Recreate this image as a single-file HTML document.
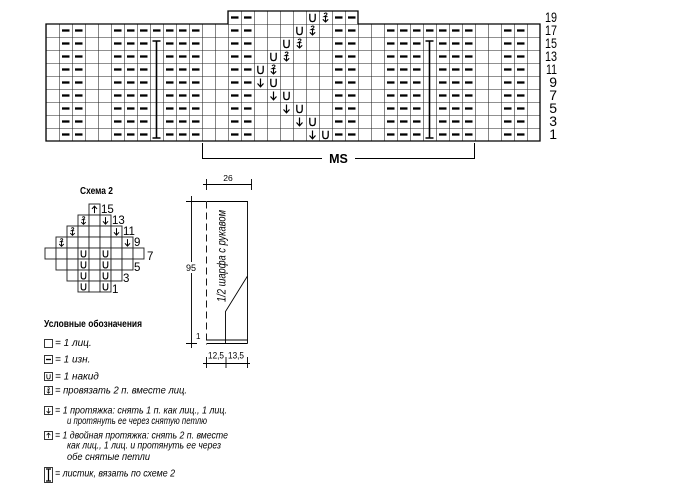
<!DOCTYPE html>
<html><head><meta charset="utf-8"><style>
html,body{margin:0;padding:0;background:#fff;width:683px;height:490px;overflow:hidden}
svg{display:block}
text{font-family:"Liberation Sans",sans-serif;fill:#000}
.it{font-style:italic;font-size:10px}
</style></head><body>
<svg width="683" height="490" viewBox="0 0 683 490" xmlns="http://www.w3.org/2000/svg">
<defs>
<pattern id="grid" x="46" y="11" width="13" height="13" patternUnits="userSpaceOnUse">
<path d="M0 0H13M0 0V13" stroke="#222" stroke-width="1.1" fill="none"/>
</pattern>
<pattern id="purl" x="46" y="11" width="13" height="13" patternUnits="userSpaceOnUse">
<path d="M3 6.5H10.5" stroke="#000" stroke-width="2.3"/>
</pattern>
<g id="V"><path d="M3.8 2.8V7.5Q3.8 10.6 6.5 10.6Q9.2 10.6 9.2 7.5V2.8" stroke="#000" stroke-width="1.3" fill="none"/></g>
<g id="D"><path d="M6.5 2.5V10.8M3.5 7.5L6.5 10.8L9.5 7.5" stroke="#000" stroke-width="1.2" fill="none"/></g>
<g id="U"><path d="M6.5 10.8V2.5M3.5 5.8L6.5 2.5L9.5 5.8" stroke="#000" stroke-width="1.2" fill="none"/></g>
<g id="K"><path d="M6.5 5.5V11M3.8 8.3L6.5 11L9.2 8.3" stroke="#000" stroke-width="1.1" fill="none"/><path d="M5 3Q6.5 1.2 8 2.6Q8.3 3.8 5.2 5.6H8.5" stroke="#000" stroke-width="1" fill="none"/></g>
</defs>

<!-- main chart -->
<rect x="46" y="24" width="494" height="117" fill="url(#grid)"/>
<rect x="228" y="11" width="130" height="13" fill="url(#grid)"/>
<path d="M46 24H228V11H358V24H540V141H46Z" fill="none" stroke="#000" stroke-width="1.3"/>
<g fill="url(#purl)">
<rect x="59" y="24" width="26" height="117"/>
<rect x="111" y="24" width="39" height="117"/>
<rect x="150" y="24" width="13" height="13"/>
<rect x="163" y="24" width="39" height="117"/>
<rect x="228" y="11" width="26" height="130"/>
<rect x="332" y="11" width="26" height="130"/>
<rect x="384" y="24" width="39" height="117"/>
<rect x="423" y="24" width="13" height="13"/>
<rect x="436" y="24" width="39" height="117"/>
<rect x="501" y="24" width="26" height="117"/>
</g>
<use href="#V" x="306" y="11"/><use href="#K" x="319" y="11"/>
<use href="#V" x="293" y="24"/><use href="#K" x="306" y="24"/>
<use href="#V" x="280" y="37"/><use href="#K" x="293" y="37"/>
<use href="#V" x="267" y="50"/><use href="#K" x="280" y="50"/>
<use href="#V" x="254" y="63"/><use href="#K" x="267" y="63"/>
<use href="#D" x="254" y="76"/><use href="#V" x="267" y="76"/>
<use href="#D" x="267" y="89"/><use href="#V" x="280" y="89"/>
<use href="#D" x="280" y="102"/><use href="#V" x="293" y="102"/>
<use href="#D" x="293" y="115"/><use href="#V" x="306" y="115"/>
<use href="#D" x="306" y="128"/><use href="#V" x="319" y="128"/>
<g stroke="#000" stroke-width="1.6" fill="none">
<path d="M156.5 41V138M152.5 41H160.5M152.5 138H160.5"/>
<path d="M429.5 41V138M425.5 41H433.5M425.5 138H433.5"/>
</g>
<g stroke="#000" stroke-width="1" fill="none">
<path d="M202.5 143V158.5H322M355 158.5H474.5V143"/>
</g>
<text x="338.5" y="163" font-size="12.5" font-weight="bold" text-anchor="middle">MS</text>
<g font-size="14" text-anchor="end">
<text x="557" y="22" textLength="12" lengthAdjust="spacingAndGlyphs">19</text>
<text x="557" y="35" textLength="12" lengthAdjust="spacingAndGlyphs">17</text>
<text x="557" y="48" textLength="12" lengthAdjust="spacingAndGlyphs">15</text>
<text x="557" y="61" textLength="12" lengthAdjust="spacingAndGlyphs">13</text>
<text x="557" y="74" textLength="11" lengthAdjust="spacingAndGlyphs">11</text>
<text x="557" y="87">9</text>
<text x="557" y="100">7</text>
<text x="557" y="113">5</text>
<text x="557" y="126">3</text>
<text x="557" y="139">1</text>
</g>

<!-- Schema 2 -->
<text x="80" y="194" font-size="10.5" font-weight="bold" textLength="33" lengthAdjust="spacingAndGlyphs">Схема 2</text>
<g transform="translate(45,204) scale(0.846)">
<g fill="#fff" stroke="#222" stroke-width="1.1">
<rect x="52" y="0" width="13" height="13"/>
<rect x="39" y="13" width="13" height="13"/><rect x="52" y="13" width="13" height="13"/><rect x="65" y="13" width="13" height="13"/>
<rect x="26" y="26" width="13" height="13"/><rect x="39" y="26" width="13" height="13"/><rect x="52" y="26" width="13" height="13"/><rect x="65" y="26" width="13" height="13"/><rect x="78" y="26" width="13" height="13"/>
<rect x="13" y="39" width="13" height="13"/><rect x="26" y="39" width="13" height="13"/><rect x="39" y="39" width="13" height="13"/><rect x="52" y="39" width="13" height="13"/><rect x="65" y="39" width="13" height="13"/><rect x="78" y="39" width="13" height="13"/><rect x="91" y="39" width="13" height="13"/>
<rect x="0" y="52" width="13" height="13"/><rect x="13" y="52" width="13" height="13"/><rect x="26" y="52" width="13" height="13"/><rect x="39" y="52" width="13" height="13"/><rect x="52" y="52" width="13" height="13"/><rect x="65" y="52" width="13" height="13"/><rect x="78" y="52" width="13" height="13"/><rect x="91" y="52" width="13" height="13"/><rect x="104" y="52" width="13" height="13"/>
<rect x="13" y="65" width="13" height="13"/><rect x="26" y="65" width="13" height="13"/><rect x="39" y="65" width="13" height="13"/><rect x="52" y="65" width="13" height="13"/><rect x="65" y="65" width="13" height="13"/><rect x="78" y="65" width="13" height="13"/><rect x="91" y="65" width="13" height="13"/>
<rect x="26" y="78" width="13" height="13"/><rect x="39" y="78" width="13" height="13"/><rect x="52" y="78" width="13" height="13"/><rect x="65" y="78" width="13" height="13"/><rect x="78" y="78" width="13" height="13"/>
<rect x="39" y="91" width="13" height="13"/><rect x="52" y="91" width="13" height="13"/><rect x="65" y="91" width="13" height="13"/>
</g>
<use href="#U" x="52" y="0"/>
<use href="#K" x="39" y="13"/><use href="#D" x="65" y="13"/>
<use href="#K" x="26" y="26"/><use href="#D" x="78" y="26"/>
<use href="#K" x="13" y="39"/><use href="#D" x="91" y="39"/>
<use href="#V" x="39" y="52"/><use href="#V" x="65" y="52"/>
<use href="#V" x="39" y="65"/><use href="#V" x="65" y="65"/>
<use href="#V" x="39" y="78"/><use href="#V" x="65" y="78"/>
<use href="#V" x="39" y="91"/><use href="#V" x="65" y="91"/>
</g>
<g font-size="11.5">
<text x="101" y="213">15</text>
<text x="112" y="224">13</text>
<text x="123" y="235">11</text>
<text x="134" y="246">9</text>
<text x="147" y="260">7</text>
<text x="134" y="271">5</text>
<text x="123" y="282">3</text>
<text x="112" y="293">1</text>
</g>

<!-- schematic -->
<g stroke="#000" fill="none" stroke-width="0.9">
<path d="M203 184.5H252M206.5 179V190M251.5 179V190"/>
<path d="M186 201.5H206M191.5 196V348M186 343.5H197"/>
<path d="M206.5 201.5V345" stroke-dasharray="7,4"/>
<path d="M206.5 201.5H247.5V343.5M247.5 276L225.5 311.5V343.5M206.5 340H247.5M206.5 343.5H247.5"/>
<path d="M203 363.5H250M206.5 357V368M226 357V368M247.5 357V368"/>
</g>
<rect x="184" y="262" width="14" height="11" fill="#fff"/>
<text x="191" y="271" font-size="9" text-anchor="middle">95</text>
<text x="196" y="339" font-size="8">1</text>
<text x="228" y="181" font-size="8.5" text-anchor="middle">26</text>
<text x="208" y="358.5" font-size="9" textLength="16" lengthAdjust="spacingAndGlyphs">12,5</text>
<text x="228" y="358.5" font-size="9" textLength="16" lengthAdjust="spacingAndGlyphs">13,5</text>
<text transform="translate(225.5,256) rotate(-90)" class="it" text-anchor="middle" style="font-size:12px" textLength="92" lengthAdjust="spacingAndGlyphs">1/2 шарфа с рукавом</text>

<!-- legend -->
<text x="44" y="327" font-size="10.5" font-weight="bold" textLength="98" lengthAdjust="spacingAndGlyphs">Условные обозначения</text>
<g stroke="#222" stroke-width="0.9" fill="#fff">
<rect x="44.5" y="339.5" width="8" height="8"/>
<rect x="44.5" y="355.5" width="8" height="8"/>
<rect x="44.5" y="372.5" width="8" height="8"/>
<rect x="44.5" y="386.5" width="8" height="8"/>
<rect x="44.5" y="406.5" width="8" height="8"/>
<rect x="44.5" y="431.5" width="8" height="8"/>
<rect x="44.5" y="467.5" width="8" height="15"/>
</g>
<path d="M46 359.5H51" stroke="#000" stroke-width="1.3"/>
<g transform="translate(44.5,372.5) scale(0.615)"><use href="#V"/></g>
<g transform="translate(44.5,386.5) scale(0.615)"><use href="#K"/></g>
<g transform="translate(44.5,406.5) scale(0.615)"><use href="#D"/></g>
<g transform="translate(44.5,431.5) scale(0.615)"><use href="#U"/></g>
<path d="M48.5 469V481M46 469H51M46 481H51" stroke="#000" stroke-width="1.2" fill="none"/>
<g class="it">
<text x="55" y="346">= 1 лиц.</text>
<text x="55" y="362.5">= 1 изн.</text>
<text x="55" y="379.5">= 1 накид</text>
<text x="55" y="393.5" textLength="132" lengthAdjust="spacingAndGlyphs">= провязать 2 п. вместе лиц.</text>
<text x="55" y="413.5" textLength="172" lengthAdjust="spacingAndGlyphs">= 1 протяжка: снять 1 п. как лиц., 1 лиц.</text>
<text x="67" y="424" textLength="140" lengthAdjust="spacingAndGlyphs">и протянуть ее через снятую петлю</text>
<text x="55" y="438.5" textLength="173" lengthAdjust="spacingAndGlyphs">= 1 двойная протяжка: снять 2 п. вместе</text>
<text x="67" y="448.5" textLength="154" lengthAdjust="spacingAndGlyphs">как лиц., 1 лиц. и протянуть ее через</text>
<text x="67" y="460" textLength="83" lengthAdjust="spacingAndGlyphs">обе снятые петли</text>
<text x="55" y="476.5" textLength="120" lengthAdjust="spacingAndGlyphs">= листик, вязать по схеме 2</text>
</g>
</svg>
</body></html>
